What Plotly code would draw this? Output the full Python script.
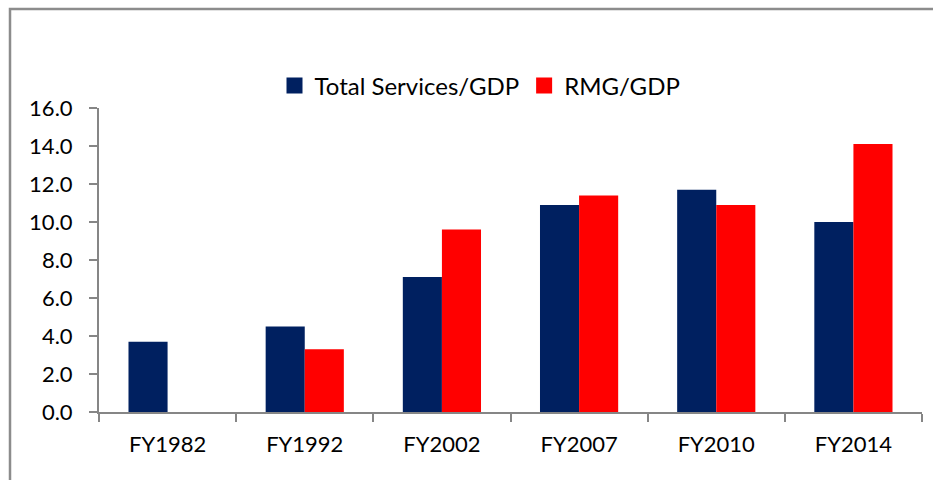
import plotly.graph_objects as go

categories = ["FY1982", "FY1992", "FY2002", "FY2007", "FY2010", "FY2014"]
total_services_gdp = [3.7, 4.5, 7.1, 10.9, 11.7, 10.0]
rmg_gdp = [None, 3.3, 9.6, 11.4, 10.9, 14.1]
y_ticks = [0, 2, 4, 6, 8, 10, 12, 14, 16]
series_names = ["Total Services/GDP", "RMG/GDP"]
series_colors = ["#002060", "#FF0000"]

W, H = 933, 480
L, R, T, B = 99, 11, 108, 68
pw, ph = W - L - R, H - T - B

def px(x):
    return (x - L) / pw

def py(y):
    return (H - B - y) / ph

fig = go.Figure()
for vals, name, col in zip([total_services_gdp, rmg_gdp], series_names, series_colors):
    fig.add_trace(go.Bar(x=categories, y=vals, name=name, showlegend=False,
                         marker=dict(color=col, line=dict(width=0))))
for name, col in zip(series_names, series_colors):
    fig.add_trace(go.Scatter(x=[None], y=[None], mode="markers", name=name,
                             marker=dict(symbol="square", size=16, color=col)))

font = "Lato, Calibri, Carlito, sans-serif"
fig.update_layout(
    width=W, height=H,
    margin=dict(l=L, r=R, t=T, b=B),
    paper_bgcolor="white", plot_bgcolor="white",
    barmode="group", bargap=0.43, bargroupgap=0,
    font=dict(family=font, size=22, color="#000000"),
    showlegend=True,
    legend=dict(orientation="h", x=px(480), y=py(86), xanchor="center", yanchor="middle",
                font=dict(size=24), itemwidth=30, traceorder="normal",
                bgcolor="rgba(0,0,0,0)"),
    xaxis=dict(showline=True, linecolor="#868686", linewidth=2, ticks="outside",
               tickson="boundaries", ticklen=8, tickcolor="#868686", tickwidth=2,
               showgrid=False, ticklabelstandoff=12),
    yaxis=dict(range=[0, 16], tickvals=y_ticks, tickformat=".1f", showline=True,
               linecolor="#868686", linewidth=2, ticks="outside", ticklen=8,
               tickcolor="#868686", tickwidth=2, showgrid=False, zeroline=False,
               ticklabelstandoff=12),
    shapes=[dict(type="rect", xref="paper", yref="paper",
                 x0=px(10), x1=px(960), y0=py(520), y1=py(9),
                 line=dict(color="#8c8c8c", width=2.5), fillcolor="rgba(0,0,0,0)",
                 layer="below")],
)
fig.write_html("out.html", config={"displayModeBar": False},
               post_script="document.body.style.margin='0';")
